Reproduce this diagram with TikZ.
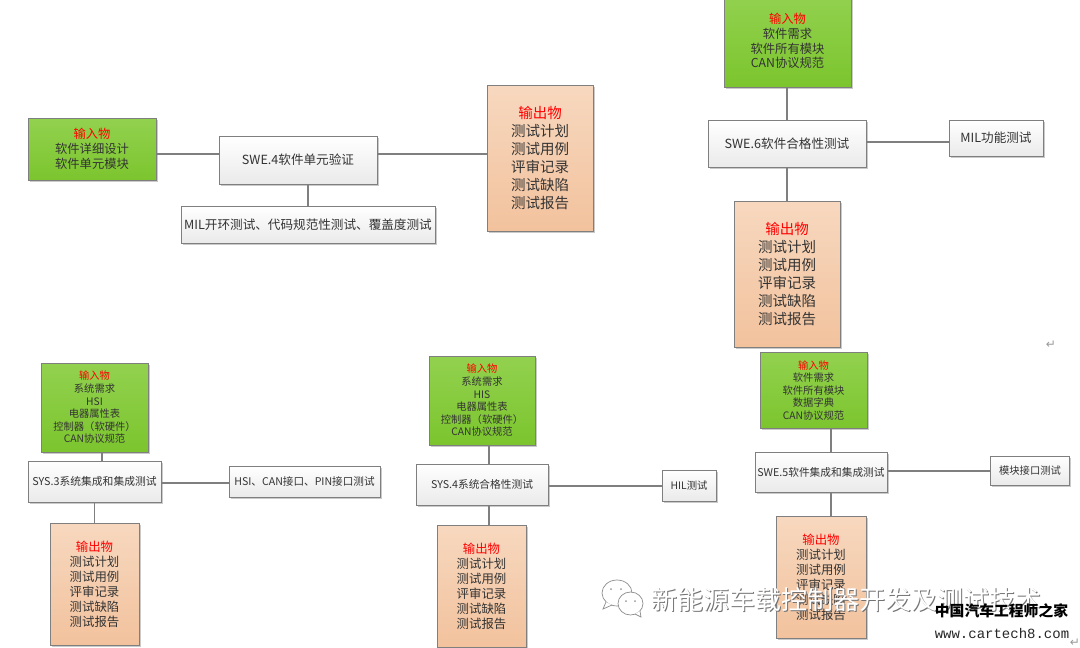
\documentclass[tikz,border=0pt]{standalone}
\usepackage{fontspec}
\usetikzlibrary{shadows}
\setmainfont{Noto Sans CJK SC}
\newfontfamily\webfont{Liberation Mono}
\newfontfamily\markfont{DejaVu Sans}
\definecolor{linegray}{HTML}{7F7F7F}
\definecolor{headred}{HTML}{FF0000}
\definecolor{inTop}{HTML}{92D14F}
\definecolor{inBottom}{HTML}{7CC52E}
\definecolor{outTop}{HTML}{F7D8BF}
\definecolor{outBottom}{HTML}{F2C29D}
\definecolor{stepBottom}{HTML}{EAEAEA}
\tikzset{
    box/.style={draw=linegray, line width=1pt, inner sep=0pt, align=center, text=black!80,
        drop shadow={shadow xshift=1.5pt, shadow yshift=-1.5pt, fill=black!35, opacity=0.6}},
    inbox/.style={box, top color=inTop, bottom color=inBottom},
    outbox/.style={box, top color=outTop, bottom color=outBottom},
    stepbox/.style={box, top color=white, bottom color=stepBottom},
    link/.style={draw=linegray, line width=1.2pt},
    bubble/.style={draw=black!45, fill=white, line width=0.7pt}
}
\newcommand{\head}[1]{\textcolor{headred}{#1}}
\begin{document}
\begin{tikzpicture}[x=1pt,y=-1pt]
    \useasboundingbox (0,0) rectangle (1080,648);

    % SWE.4
    \node[inbox, minimum width=128pt, minimum height=62pt, font=\fontsize{12.3}{15}\selectfont] (inFour) at (92,149)
        {\head{输入物}\\软件详细设计\\软件单元模块};
    \node[stepbox, minimum width=158pt, minimum height=48pt, font=\fontsize{12.6}{15}\selectfont] (stepFour) at (298,160) {SWE.4软件单元验证};
    \node[outbox, minimum width=106pt, minimum height=146pt, font=\fontsize{14.5}{18}\selectfont] (outFour) at (540,158)
        {\head{输出物}\\测试计划\\测试用例\\评审记录\\测试缺陷\\测试报告};
    \node[stepbox, minimum width=254pt, minimum height=37pt, font=\fontsize{12.6}{15}\selectfont] (testFour) at (308,224.5) {MIL开环测试、代码规范性测试、覆盖度测试};
    \draw[link] (inFour.east |- 0,154) -- (stepFour.west |- 0,154);
    \draw[link] (stepFour.east |- 0,154) -- (outFour.west |- 0,154);
    \draw[link] (stepFour.south -| 308,0) -- (testFour.north);

    % SWE.6
    \node[inbox, minimum width=127pt, minimum height=92pt, font=\fontsize{12.3}{14.7}\selectfont] (inSix) at (787.5,41)
        {\head{输入物}\\软件需求\\软件所有模块\\CAN协议规范};
    \node[stepbox, minimum width=158pt, minimum height=47pt, font=\fontsize{12.6}{15}\selectfont] (stepSix) at (787,143.5) {SWE.6软件合格性测试};
    \node[outbox, minimum width=106pt, minimum height=146pt, font=\fontsize{14.5}{18}\selectfont] (outSix) at (787,274)
        {\head{输出物}\\测试计划\\测试用例\\评审记录\\测试缺陷\\测试报告};
    \node[stepbox, minimum width=94pt, minimum height=36pt, font=\fontsize{12.6}{15}\selectfont] (testSix) at (996,138) {MIL功能测试};
    \draw[link] (inSix.south -| 787,0) -- (stepSix.north -| 787,0);
    \draw[link] (stepSix.south -| 787,0) -- (outSix.north -| 787,0);
    \draw[link] (stepSix.east |- 0,142) -- (testSix.west |- 0,142);

    % SYS.3
    \node[inbox, minimum width=107pt, minimum height=89pt, font=\fontsize{10.3}{12.6}\selectfont] (inThree) at (94.5,407.5)
        {\head{输入物}\\系统需求\\HSI\\电器属性表\\控制器（软硬件）\\CAN协议规范};
    \node[stepbox, minimum width=133pt, minimum height=41pt, font=\fontsize{10.8}{12}\selectfont] (stepThree) at (94.5,481.5) {SYS.3系统集成和集成测试};
    \node[outbox, minimum width=89pt, minimum height=122pt, font=\fontsize{12.4}{15}\selectfont] (outThree) at (94.5,584)
        {\head{输出物}\\测试计划\\测试用例\\评审记录\\测试缺陷\\测试报告};
    \node[stepbox, minimum width=151pt, minimum height=31pt, font=\fontsize{10.6}{12}\selectfont] (testThree) at (304.5,481.5) {HSI、CAN接口、PIN接口测试};
    \draw[link] (inThree.south -| 102,0) -- (stepThree.north -| 102,0);
    \draw[link] (stepThree.south) -- (outThree.north);
    \draw[link] (stepThree.east |- 0,483) -- (testThree.west |- 0,483);

    % SYS.4
    \node[inbox, minimum width=106pt, minimum height=89pt, font=\fontsize{10.3}{12.6}\selectfont] (inFourSys) at (482,400.5)
        {\head{输入物}\\系统需求\\HIS\\电器属性表\\控制器（软硬件）\\CAN协议规范};
    \node[stepbox, minimum width=132pt, minimum height=41pt, font=\fontsize{10.7}{12}\selectfont] (stepFourSys) at (482,484.5) {SYS.4系统合格性测试};
    \node[outbox, minimum width=89pt, minimum height=122pt, font=\fontsize{12.4}{15}\selectfont] (outFourSys) at (481.5,586)
        {\head{输出物}\\测试计划\\测试用例\\评审记录\\测试缺陷\\测试报告};
    \node[stepbox, minimum width=54pt, minimum height=31pt, font=\fontsize{10.3}{12}\selectfont] (testFourSys) at (689,485.5) {HIL测试};
    \draw[link] (inFourSys.south -| 489,0) -- (stepFourSys.north -| 489,0);
    \draw[link] (stepFourSys.south -| 489,0) -- (outFourSys.north -| 489,0);
    \draw[link] (stepFourSys.east |- 0,486) -- (testFourSys.west |- 0,486);

    % SWE.5
    \node[inbox, minimum width=107pt, minimum height=76pt, font=\fontsize{10.3}{12.5}\selectfont] (inFive) at (813.5,390.5)
        {\head{输入物}\\软件需求\\软件所有模块\\数据字典\\CAN协议规范};
    \node[stepbox, minimum width=132pt, minimum height=40pt, font=\fontsize{10.7}{12}\selectfont] (stepFive) at (821,472) {SWE.5软件集成和集成测试};
    \node[outbox, minimum width=90pt, minimum height=122pt, font=\fontsize{12.4}{15}\selectfont] (outFive) at (821,577)
        {\head{输出物}\\测试计划\\测试用例\\评审记录\\测试缺陷\\测试报告};
    \node[stepbox, minimum width=79pt, minimum height=29pt, font=\fontsize{10.3}{12}\selectfont] (testFive) at (1030,470.5) {模块接口测试};
    \draw[link] (inFive.south -| 831,0) -- (stepFive.north -| 831,0);
    \draw[link] (stepFive.south -| 831,0) -- (outFive.north -| 831,0);
    \draw[link] (stepFive.east |- 0,471) -- (testFive.west |- 0,471);

    % return marks
    \node[text=black!40, font=\markfont\fontsize{12}{12}\selectfont] (markOne) at (1051,345) {↵};
    \node[text=black!40, font=\markfont\fontsize{12}{12}\selectfont] (markTwo) at (1075,643) {↵};

    % watermark
    \draw[bubble] (617,593) ellipse (15pt and 13pt);
    \draw[bubble] (606,602) -- (603,609) -- (612,605);
    \draw[bubble] (630.5,603.5) ellipse (12.5pt and 11.5pt);
    \draw[bubble] (635,614) -- (641,617) -- (640,611);
    \foreach \eyex/\eyey in {611/589, 621/589, 626/601, 635/601}
        \fill[black!40] (\eyex,\eyey) circle (1pt);
    \node[text=black!55, font=\fontsize{26}{26}\selectfont, inner sep=0pt] (wmShade) at (847,600.8) {新能源车载控制器开发及测试技术};
    \node[text=white, font=\fontsize{26}{26}\selectfont, inner sep=0pt] (wmText) at (846.2,600) {新能源车载控制器开发及测试技术};
    \node[text=black, font=\bfseries\fontsize{14.8}{15}\selectfont, inner sep=0pt] (siteName) at (1001.5,611) {中国汽车工程师之家};
    \node[text=black!85, font=\webfont\fontsize{14}{15}\selectfont, inner sep=0pt] (siteUrl) at (1002,633) {www.cartech8.com};
\end{tikzpicture}
\end{document}
